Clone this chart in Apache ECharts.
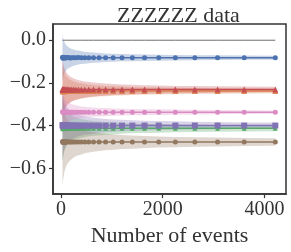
<!DOCTYPE html>
<html><head><meta charset="utf-8">
<script src="https://cdn.jsdelivr.net/npm/echarts@6/dist/echarts.min.js"></script>
<style>html,body{margin:0;padding:0;background:#fff}#c{width:291px;height:252px}</style>
</head><body><div id="c"></div>
<script>
// Number of events at each evaluation point
const events = [30, 38, 44, 52, 61, 71, 83, 97, 114, 133, 156, 182, 213, 250, 292, 342, 400, 468, 547, 640, 749, 877, 1026, 1200, 1404, 1643, 1922, 2249, 2632, 3079, 3603, 4215];

const blueMean   = [-0.080,-0.084,-0.081,-0.083,-0.082,-0.081,-0.083,-0.082,-0.082,-0.081,-0.082,-0.083,-0.082,-0.082,-0.082,-0.081,-0.082,-0.082,-0.082,-0.082,-0.082,-0.082,-0.082,-0.082,-0.082,-0.082,-0.082,-0.082,-0.082,-0.082,-0.082,-0.082];
const blueSpread = [0.110,0.098,0.091,0.084,0.077,0.072,0.066,0.061,0.056,0.052,0.048,0.045,0.041,0.038,0.035,0.033,0.030,0.028,0.026,0.024,0.022,0.020,0.019,0.017,0.016,0.015,0.014,0.013,0.012,0.011,0.010,0.009];

const orangeMean   = [-0.236,-0.240,-0.237,-0.239,-0.238,-0.237,-0.239,-0.238,-0.238,-0.237,-0.238,-0.238,-0.238,-0.238,-0.238,-0.238,-0.238,-0.238,-0.238,-0.238,-0.238,-0.238,-0.238,-0.238,-0.238,-0.238,-0.238,-0.238,-0.238,-0.238,-0.238,-0.238];
const orangeSpread = [0.130,0.116,0.107,0.099,0.091,0.085,0.078,0.072,0.067,0.062,0.057,0.053,0.049,0.045,0.042,0.038,0.036,0.033,0.030,0.028,0.026,0.024,0.022,0.021,0.019,0.018,0.016,0.015,0.014,0.013,0.012,0.011];

const greenMean   = [-0.410,-0.415,-0.412,-0.414,-0.413,-0.412,-0.414,-0.413,-0.413,-0.412,-0.413,-0.413,-0.413,-0.413,-0.413,-0.413,-0.413,-0.413,-0.413,-0.413,-0.413,-0.413,-0.413,-0.413,-0.413,-0.413,-0.413,-0.413,-0.413,-0.413,-0.413,-0.413];
const greenSpread = [0.160,0.142,0.132,0.122,0.112,0.104,0.096,0.089,0.082,0.076,0.070,0.065,0.060,0.055,0.051,0.047,0.044,0.040,0.037,0.035,0.032,0.030,0.027,0.025,0.023,0.022,0.020,0.018,0.017,0.016,0.015,0.013];

const redMean   = [-0.229,-0.233,-0.230,-0.232,-0.231,-0.230,-0.232,-0.231,-0.231,-0.230,-0.231,-0.231,-0.231,-0.231,-0.231,-0.231,-0.231,-0.231,-0.231,-0.231,-0.231,-0.231,-0.231,-0.231,-0.231,-0.231,-0.231,-0.231,-0.231,-0.231,-0.231,-0.231];
const redSpread = [0.150,0.133,0.124,0.114,0.105,0.098,0.090,0.083,0.077,0.071,0.066,0.061,0.056,0.052,0.048,0.044,0.041,0.038,0.035,0.033,0.030,0.028,0.026,0.024,0.022,0.020,0.019,0.017,0.016,0.015,0.014,0.013];

const purpleMean   = [-0.398,-0.402,-0.399,-0.401,-0.400,-0.399,-0.401,-0.400,-0.400,-0.399,-0.400,-0.400,-0.400,-0.400,-0.400,-0.400,-0.400,-0.400,-0.400,-0.400,-0.400,-0.400,-0.400,-0.400,-0.400,-0.400,-0.400,-0.400,-0.400,-0.400,-0.400,-0.400];
const purpleSpread = [0.170,0.151,0.140,0.129,0.119,0.111,0.102,0.095,0.087,0.081,0.075,0.069,0.064,0.059,0.055,0.050,0.047,0.043,0.040,0.037,0.034,0.031,0.029,0.027,0.025,0.023,0.021,0.020,0.018,0.017,0.015,0.014];

const brownMean   = [-0.475,-0.479,-0.476,-0.478,-0.477,-0.476,-0.478,-0.477,-0.477,-0.476,-0.477,-0.477,-0.477,-0.477,-0.477,-0.477,-0.477,-0.477,-0.477,-0.477,-0.477,-0.477,-0.477,-0.477,-0.477,-0.477,-0.477,-0.477,-0.477,-0.477,-0.477,-0.477];
const brownSpread = [0.210,0.187,0.173,0.160,0.147,0.137,0.126,0.117,0.108,0.100,0.092,0.085,0.079,0.073,0.067,0.062,0.058,0.053,0.049,0.046,0.042,0.039,0.036,0.033,0.031,0.028,0.026,0.024,0.022,0.021,0.019,0.018];

const pinkMean   = [-0.335,-0.339,-0.336,-0.338,-0.337,-0.336,-0.338,-0.337,-0.337,-0.336,-0.337,-0.337,-0.337,-0.337,-0.337,-0.337,-0.337,-0.337,-0.337,-0.337,-0.337,-0.337,-0.337,-0.337,-0.337,-0.337,-0.337,-0.337,-0.337,-0.337,-0.337,-0.337];
const pinkSpread = [0.100,0.089,0.083,0.076,0.070,0.065,0.060,0.056,0.051,0.048,0.044,0.041,0.038,0.035,0.032,0.030,0.027,0.025,0.023,0.022,0.020,0.019,0.017,0.016,0.015,0.014,0.013,0.012,0.011,0.010,0.009,0.008];

const referenceLine = [0,0,0,0,0,0,0,0,0,0,0,0,0,0,0,0,0,0,0,0,0,0,0,0,0,0,0,0,0,0,0,0];

const xTicks = [0, 2000, 4000];
const yTicks = [0, -0.2, -0.4, -0.6];
const titleText = 'ZZZZZZ data';
const xName = 'Number of events';

const FONT = 'Liberation Serif';
const AX = '#333333';
const X_MIN = -157, X_MAX = 4425, Y_MIN = -0.721, Y_MAX = 0.076;

const groups = [
  {mean: blueMean,   spread: blueSpread,   color: '#4c72b0', symbol: 'circle',   size: 5},
  {mean: orangeMean, spread: orangeSpread, color: '#dd8452', symbol: 'triangle', size: 6},
  {mean: greenMean,  spread: greenSpread,  color: '#55a868', symbol: 'triangle', size: 5},
  {mean: redMean,    spread: redSpread,    color: '#c44e52', symbol: 'triangle', size: 6},
  {mean: purpleMean, spread: purpleSpread, color: '#8172b3', symbol: 'rect',     size: 6},
  {mean: brownMean,  spread: brownSpread,  color: '#937860', symbol: 'circle',   size: 5},
  {mean: pinkMean,   spread: pinkSpread,   color: '#da8bc3', symbol: 'circle',   size: 5}
];

const series = [];
groups.forEach(g => {
  series.push({
    type: 'custom', silent: true, z: 1,
    data: events.map((x, i) => [x, g.mean[i] - g.spread[i], g.mean[i] + g.spread[i]]),
    encode: {x: 0, y: [1, 2]},
    renderItem: (params, api) => {
      if (params.dataIndex !== 0) return null;
      const up = events.map((x, i) => api.coord([x, g.mean[i] + g.spread[i]]));
      const lo = events.map((x, i) => api.coord([x, g.mean[i] - g.spread[i]])).reverse();
      return {type: 'polygon', shape: {points: up.concat(lo)}, style: {fill: g.color, opacity: 0.3}};
    }
  });
});
series.push({
  type: 'line', z: 2, silent: true, symbol: 'none',
  data: events.map((x, i) => [x, referenceLine[i]]),
  lineStyle: {color: '#6e6e6e', width: 1}
});
groups.forEach(g => {
  series.push({
    type: 'line', z: 3, silent: true,
    data: events.map((x, i) => [x, g.mean[i]]),
    symbol: g.symbol, symbolSize: g.size,
    lineStyle: {color: g.color, width: 1.5},
    itemStyle: {color: g.color}
  });
});

const chart = echarts.init(document.getElementById('c'), null, {renderer: 'canvas'});
chart.setOption({
  animation: false,
  backgroundColor: '#fff',
  title: {
    text: titleText, left: 112, top: 0,
    textStyle: {fontFamily: FONT, fontSize: 22, fontWeight: 'normal', color: '#333'}
  },
  grid: {left: 53, right: 5, top: 24, bottom: 54, show: true, borderColor: AX, borderWidth: 1.5},
  xAxis: {
    type: 'value', min: X_MIN, max: X_MAX,
    splitLine: {show: false},
    axisLine: {show: true, onZero: false, lineStyle: {color: AX, width: 1.5}},
    axisTick: {show: true, customValues: xTicks, length: 4, lineStyle: {color: AX, width: 1.2}},
    axisLabel: {customValues: xTicks, fontFamily: FONT, fontSize: 20, color: '#333', margin: 6,
      formatter: v => String(Math.round(v))},
    name: xName, nameLocation: 'middle', nameGap: 25,
    nameTextStyle: {fontFamily: FONT, fontSize: 22, color: '#333'}
  },
  yAxis: {
    type: 'value', min: Y_MIN, max: Y_MAX,
    splitLine: {show: false},
    axisLine: {show: true, onZero: false, lineStyle: {color: AX, width: 1.5}},
    axisTick: {show: true, customValues: yTicks, length: 4, lineStyle: {color: AX, width: 1.2}},
    axisLabel: {customValues: yTicks, fontFamily: FONT, fontSize: 20, color: '#333', margin: 7,
      formatter: v => (v < 0 ? '\u2212' : '') + Math.abs(v).toFixed(1)}
  },
  series: series
});
</script>
</body></html>
